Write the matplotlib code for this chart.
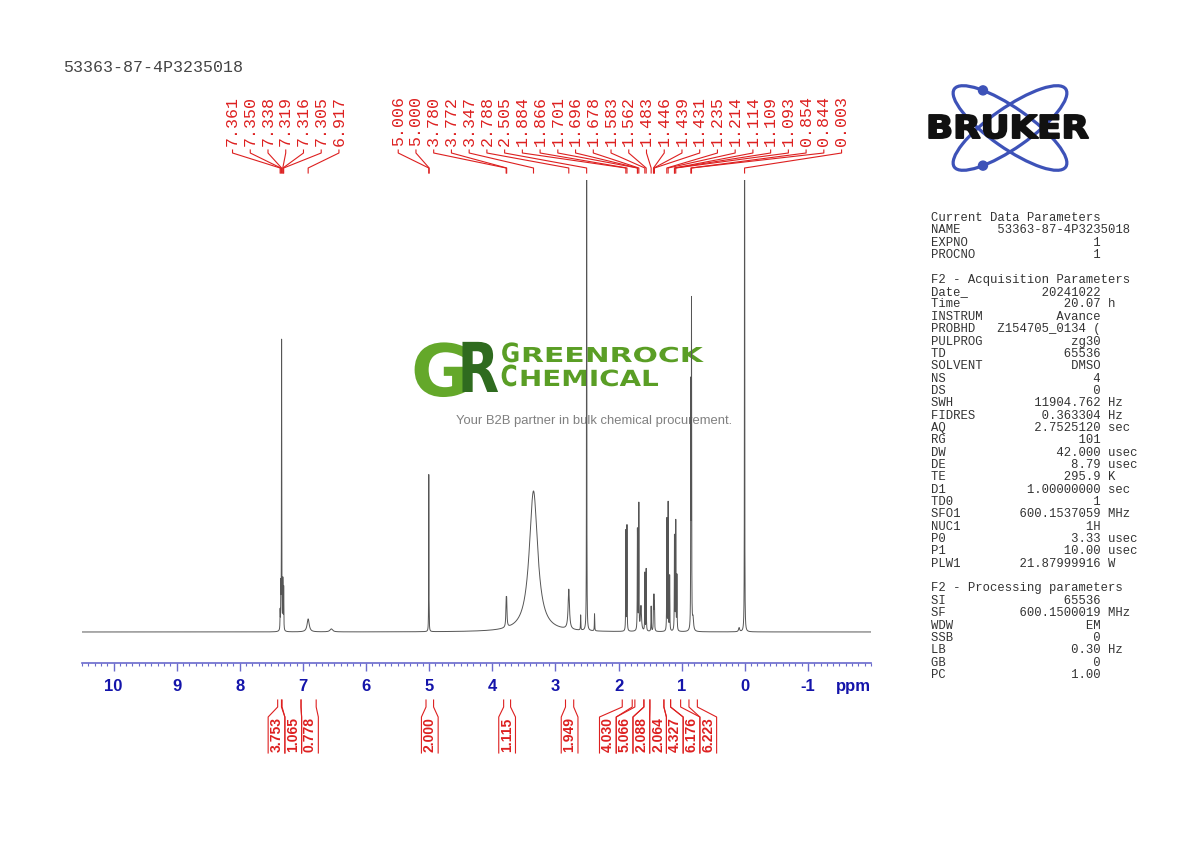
import numpy as np
import matplotlib
matplotlib.use("Agg")
import matplotlib.pyplot as plt
import matplotlib.patheffects as pe
from matplotlib.patches import Ellipse, Circle
from matplotlib.ticker import MultipleLocator
from matplotlib.transforms import Affine2D, blended_transform_factory

plt.rcParams["axes.unicode_minus"] = False

sample_name = "53363-87-4P3235018"

# picked peaks (top labels), ppm
peak_labels = [7.361, 7.350, 7.338, 7.319, 7.316, 7.305, 6.917,
               5.006, 5.000, 3.780, 3.772, 3.347, 2.788, 2.505,
               1.884, 1.866, 1.701, 1.696, 1.678, 1.583, 1.562,
               1.483, 1.446, 1.439, 1.431, 1.235, 1.214, 1.114,
               1.109, 1.093, 0.854, 0.844, 0.003]

# spectrum lines: position (ppm), height (px over baseline), width (ppm)
line_ppm = [7.361, 7.350, 7.338, 7.319, 7.316, 7.305, 6.917, 6.55,
            5.006, 5.000, 3.780, 3.772, 3.347, 2.788, 2.60, 2.505, 2.38,
            1.884, 1.866, 1.701, 1.696, 1.678, 1.645, 1.583, 1.562,
            1.483, 1.446, 1.439, 1.431, 1.235, 1.214, 1.19,
            1.114, 1.109, 1.093, 1.075, 0.854, 0.844, 0.82, 0.09, 0.003]
line_height = [18, 40, 290, 35, 30, 42, 13, 3,
               156, 12, 22, 22, 141, 40, 15, 700, 17,
               100, 105, 85, 80, 125, 25, 58, 62,
               25, 28, 30, 26, 112, 128, 55,
               80, 75, 108, 55, 235, 320, 12, 4, 700]
line_width = [0.005, 0.005, 0.005, 0.005, 0.005, 0.005, 0.04, 0.05,
              0.004, 0.004, 0.012, 0.012, 0.16, 0.025, 0.006, 0.004, 0.006,
              0.005, 0.005, 0.005, 0.005, 0.005, 0.02, 0.005, 0.005,
              0.006, 0.006, 0.006, 0.006, 0.005, 0.005, 0.006,
              0.005, 0.005, 0.005, 0.006, 0.005, 0.005, 0.02, 0.02, 0.004]

# integrals
integral_values = ["3.753", "1.065", "0.778", "2.000", "1.115", "1.949",
                   "4.030", "5.066", "2.088", "2.064", "4.327", "6.176", "6.223"]
integral_from = [7.40, 7.33, 7.03, 5.05, 3.82, 2.84, 1.941, 1.741, 1.598, 1.503, 1.281, 1.175, 0.884]
integral_to = [7.34, 7.03, 6.79, 4.93, 3.71, 2.71, 1.783, 1.598, 1.503, 1.281, 1.175, 1.016, 0.751]

params = [
    "Current Data Parameters",
    ("NAME", sample_name, ""),
    ("EXPNO", "1", ""),
    ("PROCNO", "1", ""),
    "",
    "F2 - Acquisition Parameters",
    ("Date_", "20241022", ""),
    ("Time", "20.07", "h"),
    ("INSTRUM", "Avance", ""),
    ("PROBHD", "Z154705_0134 (", ""),
    ("PULPROG", "zg30", ""),
    ("TD", "65536", ""),
    ("SOLVENT", "DMSO", ""),
    ("NS", "4", ""),
    ("DS", "0", ""),
    ("SWH", "11904.762", "Hz"),
    ("FIDRES", "0.363304", "Hz"),
    ("AQ", "2.7525120", "sec"),
    ("RG", "101", ""),
    ("DW", "42.000", "usec"),
    ("DE", "8.79", "usec"),
    ("TE", "295.9", "K"),
    ("D1", "1.00000000", "sec"),
    ("TD0", "1", ""),
    ("SFO1", "600.1537059", "MHz"),
    ("NUC1", "1H", ""),
    ("P0", "3.33", "usec"),
    ("P1", "10.00", "usec"),
    ("PLW1", "21.87999916", "W"),
    "",
    "F2 - Processing parameters",
    ("SI", "65536", ""),
    ("SF", "600.1500019", "MHz"),
    ("WDW", "EM", ""),
    ("SSB", "0", ""),
    ("LB", "0.30", "Hz"),
    ("GB", "0", ""),
    ("PC", "1.00", ""),
]

RED = "#dd2020"
BLUE_TXT = "#1414aa"
BLUE_LINE = "#6a6acc"


class Stretch(pe.AbstractPathEffect):
    # scale the glyphs around the text origin (logo lettering), optional extra stroke
    def __init__(self, sx, sy=1.0, stroke=0.0):
        super().__init__()
        self.sx = sx
        self.sy = sy
        self.stroke = stroke

    def draw_path(self, renderer, gc, tpath, affine, rgbFace=None):
        x0, y0 = affine.transform((0, 0))
        aff = affine + Affine2D().translate(-x0, -y0).scale(self.sx, self.sy).translate(x0, y0)
        gc0 = renderer.new_gc()
        gc0.copy_properties(gc)
        gc0.set_linewidth(self.stroke)
        renderer.draw_path(gc0, tpath, aff, rgbFace)
        gc0.restore()


def spread(centers, gap):
    groups = [[c] for c in centers]
    changed = True
    while changed:
        changed = False
        for k in range(len(groups) - 1):
            a, b = groups[k], groups[k + 1]
            a_last = np.mean(a) - gap * (len(a) - 1) / 2
            b_first = np.mean(b) + gap * (len(b) - 1) / 2
            if a_last - b_first < gap:
                groups[k] = a + b
                del groups[k + 1]
                changed = True
                break
    out = []
    for g in groups:
        m = np.mean(g)
        out += [m + gap * ((len(g) - 1) / 2 - i) for i in range(len(g))]
    return out


fig = plt.figure(figsize=(11.9, 8.42), dpi=100)

# overlay in pixel coordinates
ov = fig.add_axes([0, 0, 1, 1])
ov.set_xlim(0, 1190)
ov.set_ylim(842, 0)
ov.axis("off")

# spectrum axes
ax = fig.add_axes([82 / 1190, (842 - 663) / 842, 789 / 1190, 483 / 842])
ax.patch.set_alpha(0)
ppm = np.linspace(10.5, -2.0, 60001)
spec = np.zeros_like(ppm)
for p, h, w in zip(line_ppm, line_height, line_width):
    spec += h / (1 + ((ppm - p) / (w / 2)) ** 2)
ax.plot(ppm, spec, color="#555555", lw=0.7)
ax.set_xlim(10.5, -2.0)
ax.set_ylim(-31, 452)
for s in ["top", "left", "right"]:
    ax.spines[s].set_visible(False)
ax.spines["bottom"].set_color(BLUE_LINE)
ax.spines["bottom"].set_linewidth(1.2)
ax.set_yticks([])
major = list(range(-1, 11))
ax.set_xticks(major, labels=[str(v) for v in major], fontsize=12,
              fontweight="bold", color=BLUE_TXT, family="Liberation Sans")
ax.xaxis.set_minor_locator(MultipleLocator(0.1))
ax.tick_params(axis="x", which="major", direction="out", length=5.8, width=1,
               color=BLUE_LINE, pad=6)
ax.tick_params(axis="x", which="minor", direction="out", length=2.2, width=0.8,
               color=BLUE_LINE)
ov.text(853, 687, "ppm", ha="center", va="center", fontsize=12, fontweight="bold",
        color=BLUE_TXT, family="Liberation Sans")

tr = blended_transform_factory(ax.transData, ov.transData)

# top peak labels
label_x = spread(peak_labels, 17.7 / 63)
for lx, p in zip(label_x, peak_labels):
    ov.text(lx, 146, f"{p:.3f}", transform=tr, rotation=90, ha="center", va="bottom",
            fontsize=12, family="Liberation Mono", color=RED)
    ov.plot([lx, lx, p, p], [150, 153, 168, 173], transform=tr, color=RED, lw=0.8)

# integrals
centers = [(a + b) / 2 for a, b in zip(integral_from, integral_to)]
gap = 16.7 / 63
int_x = spread(centers, gap)
hw = gap / 2
for lx, a, b, v in zip(int_x, integral_from, integral_to, integral_values):
    ov.plot([a, a, lx + hw, lx + hw], [700, 707, 717, 753], transform=tr, color=RED, lw=0.8)
    ov.plot([b, b, lx - hw, lx - hw], [700, 707, 717, 753], transform=tr, color=RED, lw=0.8)
    ov.text(lx, 735, v, transform=tr, rotation=90, ha="center", va="center",
            fontsize=10, fontweight="bold", family="Liberation Sans", color=RED)

# title and parameter block
ov.text(63, 68, sample_name, ha="left", va="center", fontsize=12,
        family="Liberation Mono", color="#444444")
for i, row in enumerate(params):
    if isinstance(row, tuple):
        key, val, unit = row
        line = f"{key:<9}{val:>14} {unit}".rstrip()
    else:
        line = row
    ov.text(931, 218 + i * 12.35, line, ha="left", va="center", fontsize=8.8,
            family="Liberation Mono", color="#333333")

# watermark
ov.text(411, 396, "G", ha="left", va="baseline", fontsize=40, fontweight="bold",
        family="DejaVu Sans", color="#64a82a", path_effects=[Stretch(1.3, 1.3)])
ov.text(457.5, 392, "R", ha="left", va="baseline", fontsize=39, fontweight="bold",
        family="DejaVu Sans", color="#2f6b1f", path_effects=[Stretch(1.0, 1.27)])
ov.text(501, 362, "G", ha="left", va="baseline", fontsize=16, fontweight="bold",
        family="DejaVu Sans", color="#5a9e25", path_effects=[Stretch(1.05, 1.19)])
ov.text(521, 362, "REENROCK", ha="left", va="baseline", fontsize=14.8, fontweight="bold",
        family="DejaVu Sans", color="#5a9e25", path_effects=[Stretch(1.45)])
ov.text(500.5, 386, "C", ha="left", va="baseline", fontsize=16, fontweight="bold",
        family="DejaVu Sans", color="#5a9e25", path_effects=[Stretch(1.05, 1.3)])
ov.text(519, 386, "HEMICAL", ha="left", va="baseline", fontsize=16, fontweight="bold",
        family="DejaVu Sans", color="#5a9e25", path_effects=[Stretch(1.25)])
ov.text(456, 421, "Your B2B partner in bulk chemical procurement.", ha="left",
        va="center", fontsize=9.4, family="Liberation Sans", color="#808080")

# Bruker logo
cx, cy, a, b = 1010, 128, 68, 20
for ang, sgn in [(35, -1), (-35, 1)]:
    ov.add_patch(Ellipse((cx, cy), 2 * a, 2 * b, angle=ang, fill=False,
                         edgecolor="#3d52b8", lw=2.3))
    t = np.radians(-130 * -sgn)
    th = np.radians(ang)
    dx = a * np.cos(t) * np.cos(th) - b * np.sin(t) * np.sin(th)
    dy = a * np.cos(t) * np.sin(th) + b * np.sin(t) * np.cos(th)
    ov.add_patch(Circle((cx + dx, cy + dy), 4.5, color="#3d52b8"))
ov.text(926, 138, "BRUKER", ha="left", va="baseline", fontsize=22.7, fontweight="bold",
        family="DejaVu Sans", color="#111111", zorder=5,
        path_effects=[Stretch(1.13, 1.0, 1.4)])

fig.savefig("out.png", dpi=100)
